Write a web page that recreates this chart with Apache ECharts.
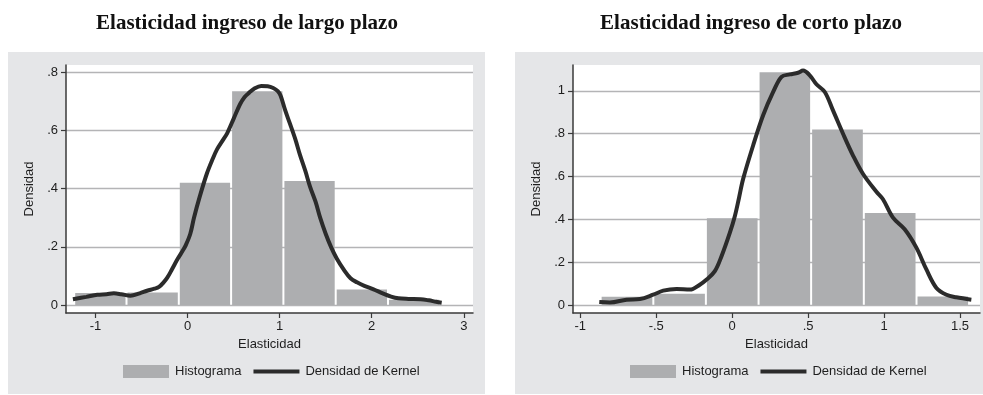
<!DOCTYPE html>
<html>
<head>
<meta charset="utf-8">
<title>Elasticidad ingreso</title>
<script src="https://cdn.jsdelivr.net/npm/echarts@6/dist/echarts.min.js"></script>
<style>
  html, body { margin: 0; padding: 0; background: #ffffff; }
  #chart { width: 983px; height: 395px; }
</style>
</head>
<body>
<div id="chart"></div>
<script>
// Long-run income elasticity: histogram bins and kernel density
const leftBinEdges = [-1.231, -0.663, -0.095, 0.473, 1.041, 1.609, 2.177, 2.745];
const leftBarHeights = [0.041, 0.043, 0.420, 0.735, 0.426, 0.053, 0.018];
const leftKernelX = [-1.245, -1.10, -0.98, -0.88, -0.80, -0.72, -0.62, -0.52, -0.44, -0.36, -0.31,
  -0.26, -0.22, -0.17, -0.11, -0.05, -0.02, 0.03, 0.07, 0.13, 0.21, 0.27, 0.32, 0.38, 0.43,
  0.50, 0.57, 0.62, 0.67, 0.73, 0.80, 0.87, 0.93, 0.98, 1.01, 1.06, 1.11, 1.17, 1.22, 1.28,
  1.33, 1.39, 1.44, 1.50, 1.56, 1.62, 1.70, 1.77, 1.84, 1.92, 2.02, 2.12, 2.21, 2.29, 2.40,
  2.53, 2.62, 2.70, 2.76];
const leftKernelY = [0.020, 0.028, 0.035, 0.037, 0.040, 0.037, 0.032, 0.040, 0.049, 0.056, 0.062,
  0.078, 0.094, 0.122, 0.157, 0.188, 0.205, 0.245, 0.300, 0.370, 0.452, 0.500, 0.535, 0.565, 0.590,
  0.640, 0.690, 0.715, 0.730, 0.745, 0.753, 0.752, 0.746, 0.735, 0.720, 0.670, 0.625, 0.570, 0.517, 0.460,
  0.407, 0.355, 0.300, 0.245, 0.198, 0.160, 0.120, 0.092, 0.078, 0.066, 0.054, 0.040, 0.029, 0.023, 0.021,
  0.020, 0.016, 0.011, 0.008];

// Short-run income elasticity
const rightBinEdges = [-0.866, -0.519, -0.173, 0.174, 0.520, 0.867, 1.214, 1.560];
const rightBarHeights = [0.039, 0.053, 0.405, 1.087, 0.820, 0.430, 0.040];
const rightKernelX = [-0.875, -0.805, -0.695, -0.607, -0.520, -0.454, -0.366, -0.278, -0.213, -0.168,
  -0.114, -0.070, -0.015, 0.018, 0.045, 0.072, 0.138, 0.204, 0.270, 0.325, 0.380, 0.434, 0.467, 0.511,
  0.555, 0.610, 0.664, 0.730, 0.796, 0.862, 0.950, 0.993, 1.059, 1.136, 1.213, 1.279, 1.345, 1.411,
  1.476, 1.575];
const rightKernelY = [0.014, 0.012, 0.025, 0.028, 0.048, 0.067, 0.075, 0.072, 0.095, 0.119,
  0.158, 0.228, 0.338, 0.416, 0.500, 0.588, 0.745, 0.886, 0.995, 1.066, 1.077, 1.085, 1.095, 1.073,
  1.031, 0.995, 0.909, 0.800, 0.698, 0.612, 0.529, 0.494, 0.408, 0.354, 0.268, 0.166, 0.080, 0.048,
  0.036, 0.025];

// Tick labels
const leftXTicks = [-1, 0, 1, 2, 3];
const leftYTicks = [0, 0.2, 0.4, 0.6, 0.8];
const rightXTicks = [-1, -0.5, 0, 0.5, 1, 1.5];
const rightYTicks = [0, 0.2, 0.4, 0.6, 0.8, 1];

const titles = ['Elasticidad ingreso de largo plazo', 'Elasticidad ingreso de corto plazo'];

const SANS = "'Liberation Sans', Arial, Helvetica, sans-serif";
const SERIF = "'Liberation Serif', 'Times New Roman', serif";
const INK = '#1e1e1e';
const BAR = '#adaeb0';
const CURVE = '#2b2b2b';
const PANEL = '#e5e6e8';

// Stata-style numbers: ".8", "-.5"
function stataNum(v) {
  return String(Math.round(v * 1000) / 1000).replace(/^(-?)0\./, '$1.');
}

function binsToRows(edges, heights) {
  return heights.map((h, i) => [edges[i], edges[i + 1], h]);
}

function zip(xs, ys) {
  return xs.map((x, i) => [x, ys[i]]);
}

// One histogram bin, spanning [start, end] at the given density
function renderBin(params, api) {
  const topLeft = api.coord([api.value(0), api.value(2)]);
  const bottomRight = api.coord([api.value(1), 0]);
  return {
    type: 'rect',
    shape: {
      x: topLeft[0] + 1,
      y: topLeft[1],
      width: bottomRight[0] - topLeft[0] - 2,
      height: bottomRight[1] - topLeft[1]
    },
    style: { fill: BAR }
  };
}

function xAxisFor(gridIndex, min, max, ticks) {
  return {
    type: 'value', gridIndex, min, max,
    name: 'Elasticidad', nameLocation: 'middle', nameGap: 23,
    nameTextStyle: { fontFamily: SANS, fontSize: 13, color: INK },
    axisLine: { show: true, onZero: false, lineStyle: { color: '#3a3a3a', width: 1.5 } },
    axisTick: { show: true, length: 5, customValues: ticks, lineStyle: { color: '#3a3a3a', width: 1.2 } },
    axisLabel: { customValues: ticks, margin: 7, fontFamily: SANS, fontSize: 13, color: INK, formatter: stataNum },
    splitLine: { show: false }
  };
}

function yAxisFor(gridIndex, min, max, ticks) {
  return {
    type: 'value', gridIndex, min, max,
    name: 'Densidad', nameLocation: 'middle', nameGap: 30,
    nameTextStyle: { fontFamily: SANS, fontSize: 13, color: INK },
    axisLine: { show: true, onZero: false, lineStyle: { color: '#3a3a3a', width: 1.5 } },
    axisTick: { show: true, length: 5, customValues: ticks, lineStyle: { color: '#3a3a3a', width: 1.2 } },
    axisLabel: { customValues: ticks, margin: 8, fontFamily: SANS, fontSize: 13, color: INK, formatter: stataNum },
    splitLine: { show: true, lineStyle: { color: '#b4b4b6', width: 1.3 } }
  };
}

function legendAt(left) {
  return {
    left, top: 365, padding: 0, itemGap: 12,
    itemWidth: 46, itemHeight: 13, symbolKeepAspect: true,
    textStyle: { fontFamily: SANS, fontSize: 13, color: INK, padding: [0, 0, 0, 1] },
    data: [
      { name: 'Histograma', icon: 'rect' },
      { name: 'Densidad de Kernel', icon: 'path://M0,0H46V4H0Z' }
    ],
    selectedMode: false
  };
}

const chart = echarts.init(document.getElementById('chart'), null, { renderer: 'canvas' });

chart.setOption({
  backgroundColor: '#ffffff',
  animation: false,
  graphic: [
    { type: 'rect', z: -10, silent: true, shape: { x: 8, y: 52, width: 477, height: 342 }, style: { fill: PANEL } },
    { type: 'rect', z: -10, silent: true, shape: { x: 515, y: 52, width: 468, height: 342 }, style: { fill: PANEL } }
  ],
  title: [
    { text: titles[0], left: 242, top: 8, textAlign: 'center',
      textStyle: { fontFamily: SERIF, fontWeight: 'bold', fontSize: 21, color: '#111' } },
    { text: titles[1], left: 746, top: 8, textAlign: 'center',
      textStyle: { fontFamily: SERIF, fontWeight: 'bold', fontSize: 21, color: '#111' } }
  ],
  legend: [legendAt(123), legendAt(630)],
  grid: [
    { left: 66, top: 65, width: 407, height: 248, show: true, backgroundColor: '#ffffff', borderWidth: 0 },
    { left: 573, top: 65, width: 407, height: 248, show: true, backgroundColor: '#ffffff', borderWidth: 0 }
  ],
  xAxis: [
    xAxisFor(0, -1.32, 3.1, leftXTicks),
    xAxisFor(1, -1.048, 1.632, rightXTicks)
  ],
  yAxis: [
    yAxisFor(0, -0.0275, 0.825, leftYTicks),
    yAxisFor(1, -0.0373, 1.121, rightYTicks)
  ],
  series: [
    {
      name: 'Histograma', type: 'custom', xAxisIndex: 0, yAxisIndex: 0,
      renderItem: renderBin, itemStyle: { color: BAR },
      encode: { x: [0, 1], y: 2 },
      data: binsToRows(leftBinEdges, leftBarHeights), z: 2
    },
    {
      name: 'Densidad de Kernel', type: 'line', xAxisIndex: 0, yAxisIndex: 0,
      data: zip(leftKernelX, leftKernelY), smooth: 0.35, symbol: 'none', showSymbol: false,
      lineStyle: { color: CURVE, width: 4 }, itemStyle: { color: CURVE }, z: 3
    },
    {
      name: 'Histograma', type: 'custom', xAxisIndex: 1, yAxisIndex: 1,
      renderItem: renderBin, itemStyle: { color: BAR },
      encode: { x: [0, 1], y: 2 },
      data: binsToRows(rightBinEdges, rightBarHeights), z: 2
    },
    {
      name: 'Densidad de Kernel', type: 'line', xAxisIndex: 1, yAxisIndex: 1,
      data: zip(rightKernelX, rightKernelY), smooth: 0.35, symbol: 'none', showSymbol: false,
      lineStyle: { color: CURVE, width: 4 }, itemStyle: { color: CURVE }, z: 3
    }
  ]
});
</script>
</body>
</html>
